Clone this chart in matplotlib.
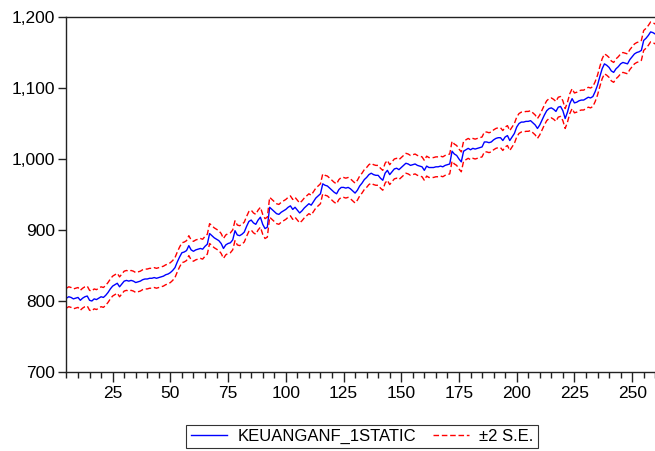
import matplotlib
matplotlib.use("Agg")
import matplotlib.pyplot as plt
from matplotlib.ticker import FuncFormatter, MultipleLocator
import numpy as np

plt.rcParams['font.family'] = ['Liberation Sans', 'DejaVu Sans']

start_obs = 5
forecast = [
    804, 806, 805, 803, 804, 805, 801, 804, 806, 807,   # 5-14
    801, 800, 803, 802, 804, 806, 805, 808, 812, 817,   # 15-24
    821, 823, 825, 820, 824, 828, 829, 828, 829, 828,   # 25-34
    826, 827, 828, 830, 831, 831, 832, 832, 833, 832,   # 35-44
    833, 834, 835, 837, 838, 840, 843, 847, 855, 862,   # 45-54
    868, 869, 871, 878, 872, 870, 872, 873, 874, 873,   # 55-64
    877, 880, 895, 892, 889, 887, 885, 881, 874, 879,   # 65-74
    881, 882, 886, 899, 893, 892, 894, 897, 905, 912,   # 75-84
    914, 910, 908, 914, 918, 908, 902, 904, 932, 929,   # 85-94
    926, 923, 922, 925, 927, 929, 932, 934, 929, 932,   # 95-104
    928, 924, 927, 931, 934, 937, 935, 940, 945, 948,   # 105-114
    951, 965, 963, 962, 959, 956, 953, 951, 957, 960,   # 115-124
    960, 959, 960, 958, 955, 952, 956, 962, 966, 971,   # 125-134
    974, 978, 980, 978, 977, 977, 973, 970, 980, 984,   # 135-144
    978, 982, 986, 987, 985, 988, 991, 994, 993, 991,   # 145-154
    992, 993, 991, 990, 989, 984, 990, 988, 988, 988,   # 155-164
    989, 989, 990, 989, 991, 992, 993, 1011, 1007, 1005,  # 165-174
    1000, 996, 1011, 1013, 1015, 1013, 1015, 1014, 1015, 1016,  # 175-184
    1017, 1024, 1024, 1023, 1024, 1027, 1029, 1030, 1030, 1026,  # 185-194
    1031, 1033, 1026, 1031, 1036, 1045, 1050, 1052, 1052, 1053,  # 195-204
    1053, 1054, 1051, 1048, 1043, 1048, 1055, 1062, 1068, 1071,  # 205-214
    1072, 1070, 1067, 1073, 1074, 1068, 1057, 1066, 1078, 1085,  # 215-224
    1079, 1080, 1082, 1083, 1083, 1085, 1087, 1086, 1088, 1095,  # 225-234
    1104, 1116, 1127, 1134, 1132, 1129, 1124, 1122, 1127, 1130,  # 235-244
    1134, 1136, 1135, 1134, 1140, 1144, 1148, 1150, 1151, 1153,  # 245-254
    1167, 1170, 1174, 1179, 1178, 1176,                          # 255-260
]
two_se = 14.0

obs = np.arange(start_obs, start_obs + len(forecast))
fc = np.array(forecast, dtype=float)
upper = fc + two_se
lower = fc - two_se

W, H = 655, 451
fig = plt.figure(figsize=(W / 100, H / 100), dpi=100)
ax = fig.add_axes([66 / W, (H - 372) / H, (658 - 66) / W, (372 - 17) / H])

ax.plot(obs, fc, color='#0000ff', lw=1.0, label='KEUANGANF_1STATIC')
ax.plot(obs, upper, color='#ff0000', lw=1.0, ls=(0, (4, 2)), label='\u00b12 S.E.')
ax.plot(obs, lower, color='#ff0000', lw=1.0, ls=(0, (4, 2)))

ax.set_xlim(4.8, 261.2)
ax.set_ylim(700, 1200)
ax.xaxis.set_major_locator(MultipleLocator(25))
ax.xaxis.set_minor_locator(MultipleLocator(5))
ax.yaxis.set_major_locator(MultipleLocator(100))
ax.yaxis.set_major_formatter(FuncFormatter(lambda v, p: f"{v:,.0f}"))

for s in ax.spines.values():
    s.set_linewidth(1.0)
    s.set_color('#222222')
ax.tick_params(axis='x', which='major', length=7, width=1, labelsize=12.5, pad=3, colors='#222222', labelcolor='black')
ax.tick_params(axis='x', which='minor', length=4, width=1, colors='#222222')
ax.tick_params(axis='y', which='major', length=6, width=1, labelsize=12.5, pad=2, colors='#222222', labelcolor='black')

handles, labels = ax.get_legend_handles_labels()
leg = fig.legend(handles, labels, loc='center', bbox_to_anchor=(362 / W, (H - 436.5) / H),
                 ncol=2, frameon=True, fancybox=False, fontsize=12, handlelength=2.2,
                 handletextpad=0.6, columnspacing=1.0, borderpad=0.25, borderaxespad=0)
leg.get_frame().set_edgecolor('black')
leg.get_frame().set_linewidth(0.8)

fig.savefig('out.png', dpi=100)
